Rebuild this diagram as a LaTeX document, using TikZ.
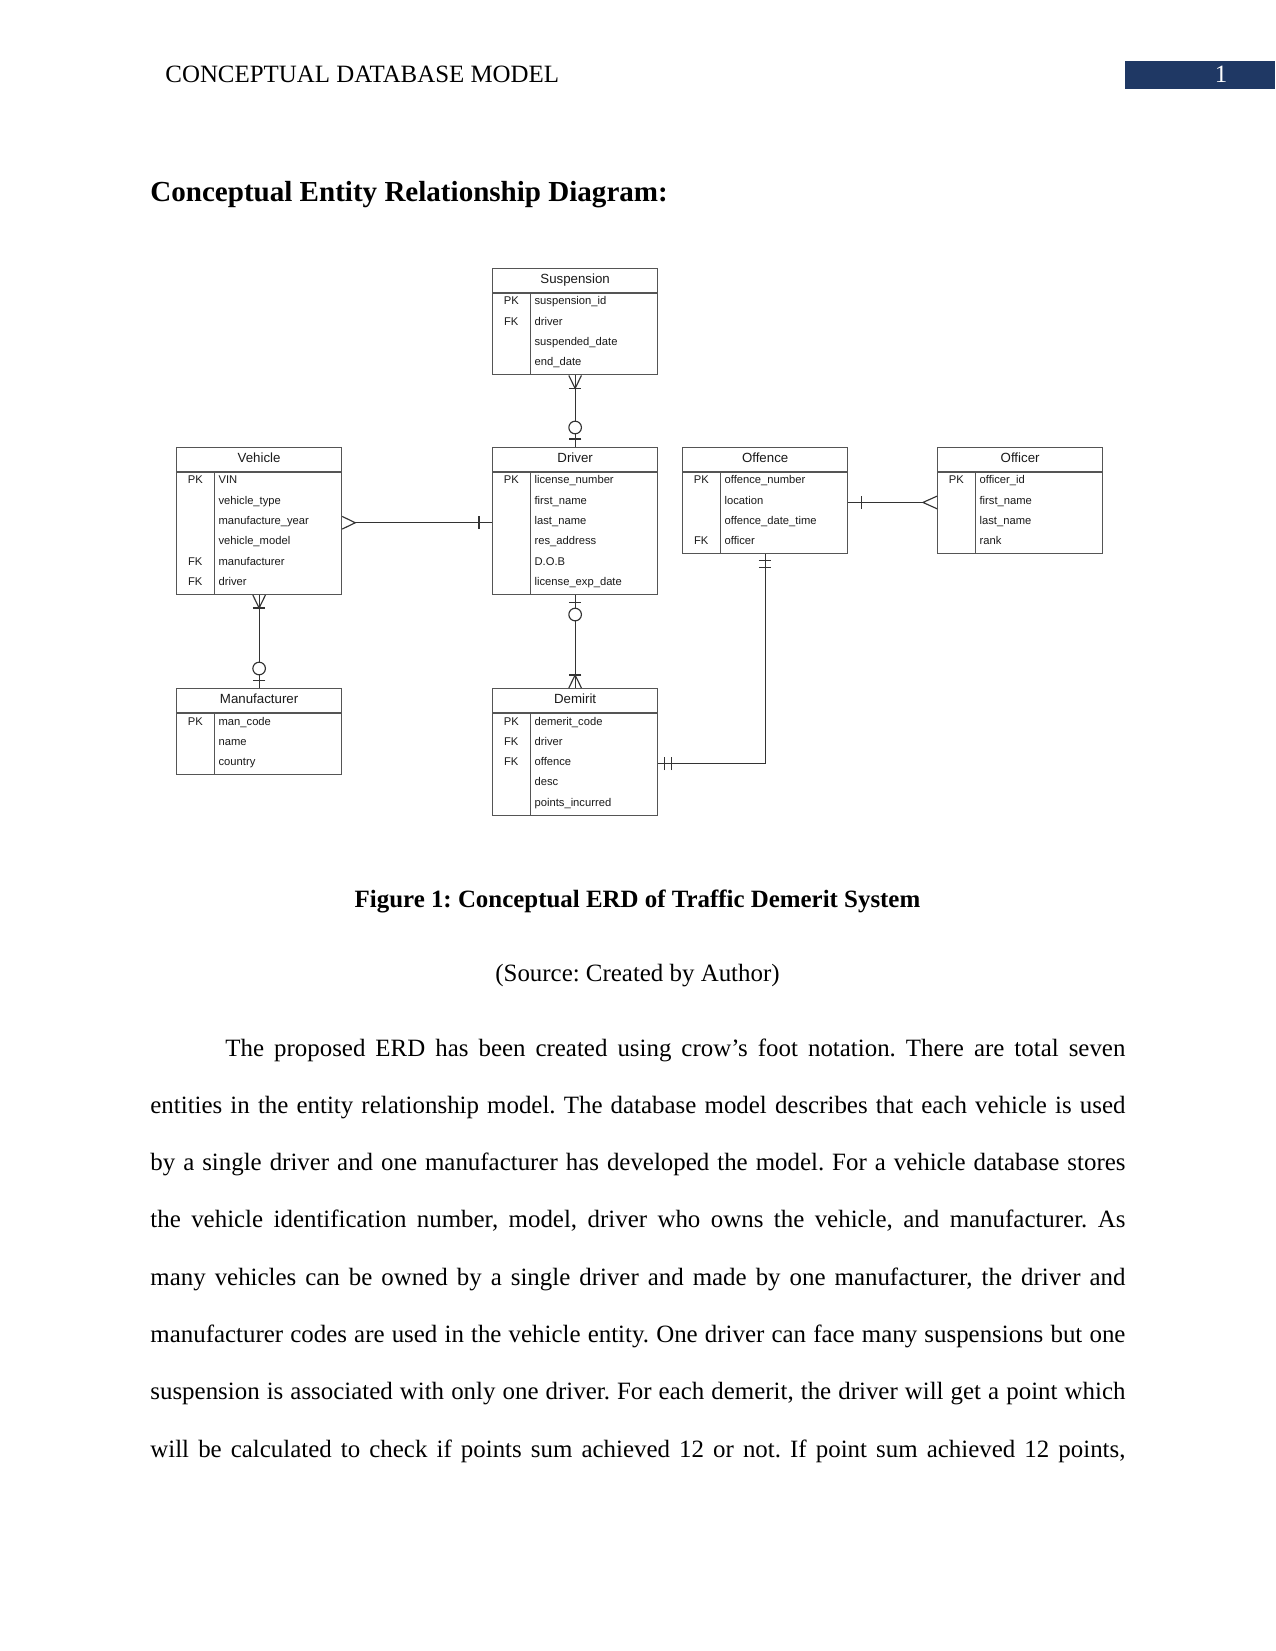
\documentclass[tikz,border=0pt]{standalone}
\usepackage{fontspec}
\setmainfont{Liberation Serif}
\newfontfamily\erdfont{Liberation Sans}
\usepackage{xcolor}
\usepackage{tikz}
\usetikzlibrary{calc}
\frenchspacing

\definecolor{erdline}{HTML}{555555}
\definecolor{erdconn}{HTML}{333333}
\definecolor{erdtext}{HTML}{1A1A1A}
\definecolor{hdrnavy}{HTML}{1F3864}

\begin{document}
\begin{tikzpicture}[x=0.4818pt, y=-0.4818pt,
  body/.style={anchor=base west, inner sep=0pt, font=\fontsize{12}{14}\selectfont},
  ent/.style={draw=erdline, line width=0.6pt, inner sep=0pt, anchor=north west,
    minimum width=79.5pt, minimum height={(25+#1*20.3)*0.4818pt}},
  eline/.style={draw=erdline, line width=0.6pt},
  etitle/.style={anchor=base, inner sep=0pt, text=erdtext, font=\erdfont\fontsize{6.4}{7.5}\selectfont},
  eattr/.style={anchor=base west, inner sep=0pt, text=erdtext, font=\erdfont\fontsize{5.4}{6.5}\selectfont},
  ekey/.style={anchor=base, inner sep=0pt, text=erdtext, font=\erdfont\fontsize{5.4}{6.5}\selectfont},
  conn/.style={draw=erdconn, line width=0.55pt},
  pics/crowmany/.style={code={\draw[conn] (-6.3,0) -- (0,13) -- (6.3,0);}},
  pics/crowbar/.style={code={\draw[conn] (-6.3,#1) -- (6.3,#1);}},
  pics/crowring/.style={code={\draw[conn, fill=white] (0,19.5) circle[radius=6.3];}}]
  \fill[white] (0,0) rectangle (1275,1651);

  % page header
  \node[body] (hdr) at (165,83) {CONCEPTUAL DATABASE MODEL};
  \fill[hdrnavy] (1125,61) rectangle (1275,89);
  \node[body, anchor=base, text=white] (pgno) at (1221,83) {1};
  \node[body, font=\bfseries\fontsize{14}{16}\selectfont] (ttl) at (150,202) {Conceptual Entity Relationship Diagram:};

  % Suspension
  \node[ent=4] (sus) at (492,268) {};
  \draw[eline] ($(sus.north west)+(0,25)$) -- ($(sus.north east)+(0,25)$)
               ($(sus.north west)+(38.5,25)$) -- ($(sus.south west)+(38.5,0)$);
  \node[etitle] (sus-t) at ($(sus.north)+(0,15.4)$) {Suspension};
  \foreach \pk/\fld [count=\row] in {PK/suspension\_id, FK/driver, /suspended\_date, /end\_date}
    \node[eattr] (sus-\row) at ($(sus.north west)+(42.2,{37+20.3*(\row-1)})$) {\fld}
      node[ekey] (sus-k\row) at ($(sus.north west)+(19.3,{37+20.3*(\row-1)})$) {\pk};

  % Vehicle
  \node[ent=6] (veh) at (176,447) {};
  \draw[eline] ($(veh.north west)+(0,25)$) -- ($(veh.north east)+(0,25)$)
               ($(veh.north west)+(38.5,25)$) -- ($(veh.south west)+(38.5,0)$);
  \node[etitle] (veh-t) at ($(veh.north)+(0,15.4)$) {Vehicle};
  \foreach \pk/\fld [count=\row] in {PK/VIN, /vehicle\_type, /manufacture\_year, /vehicle\_model, FK/manufacturer, FK/driver}
    \node[eattr] (veh-\row) at ($(veh.north west)+(42.2,{37+20.3*(\row-1)})$) {\fld}
      node[ekey] (veh-k\row) at ($(veh.north west)+(19.3,{37+20.3*(\row-1)})$) {\pk};

  % Driver
  \node[ent=6] (drv) at (492,447) {};
  \draw[eline] ($(drv.north west)+(0,25)$) -- ($(drv.north east)+(0,25)$)
               ($(drv.north west)+(38.5,25)$) -- ($(drv.south west)+(38.5,0)$);
  \node[etitle] (drv-t) at ($(drv.north)+(0,15.4)$) {Driver};
  \foreach \pk/\fld [count=\row] in {PK/license\_number, /first\_name, /last\_name, /res\_address, /D.O.B, /license\_exp\_date}
    \node[eattr] (drv-\row) at ($(drv.north west)+(42.2,{37+20.3*(\row-1)})$) {\fld}
      node[ekey] (drv-k\row) at ($(drv.north west)+(19.3,{37+20.3*(\row-1)})$) {\pk};

  % Offence
  \node[ent=4] (off) at (682,447) {};
  \draw[eline] ($(off.north west)+(0,25)$) -- ($(off.north east)+(0,25)$)
               ($(off.north west)+(38.5,25)$) -- ($(off.south west)+(38.5,0)$);
  \node[etitle] (off-t) at ($(off.north)+(0,15.4)$) {Offence};
  \foreach \pk/\fld [count=\row] in {PK/offence\_number, /location, /offence\_date\_time, FK/officer}
    \node[eattr] (off-\row) at ($(off.north west)+(42.2,{37+20.3*(\row-1)})$) {\fld}
      node[ekey] (off-k\row) at ($(off.north west)+(19.3,{37+20.3*(\row-1)})$) {\pk};

  % Officer
  \node[ent=4] (ofr) at (937,447) {};
  \draw[eline] ($(ofr.north west)+(0,25)$) -- ($(ofr.north east)+(0,25)$)
               ($(ofr.north west)+(38.5,25)$) -- ($(ofr.south west)+(38.5,0)$);
  \node[etitle] (ofr-t) at ($(ofr.north)+(0,15.4)$) {Officer};
  \foreach \pk/\fld [count=\row] in {PK/officer\_id, /first\_name, /last\_name, /rank}
    \node[eattr] (ofr-\row) at ($(ofr.north west)+(42.2,{37+20.3*(\row-1)})$) {\fld}
      node[ekey] (ofr-k\row) at ($(ofr.north west)+(19.3,{37+20.3*(\row-1)})$) {\pk};

  % Manufacturer
  \node[ent=3] (man) at (176,688) {};
  \draw[eline] ($(man.north west)+(0,25)$) -- ($(man.north east)+(0,25)$)
               ($(man.north west)+(38.5,25)$) -- ($(man.south west)+(38.5,0)$);
  \node[etitle] (man-t) at ($(man.north)+(0,15.4)$) {Manufacturer};
  \foreach \pk/\fld [count=\row] in {PK/man\_code, /name, /country}
    \node[eattr] (man-\row) at ($(man.north west)+(42.2,{37+20.3*(\row-1)})$) {\fld}
      node[ekey] (man-k\row) at ($(man.north west)+(19.3,{37+20.3*(\row-1)})$) {\pk};

  % Demirit
  \node[ent=5] (dem) at (492,688) {};
  \draw[eline] ($(dem.north west)+(0,25)$) -- ($(dem.north east)+(0,25)$)
               ($(dem.north west)+(38.5,25)$) -- ($(dem.south west)+(38.5,0)$);
  \node[etitle] (dem-t) at ($(dem.north)+(0,15.4)$) {Demirit};
  \foreach \pk/\fld [count=\row] in {PK/demerit\_code, FK/driver, FK/offence, /desc, /points\_incurred}
    \node[eattr] (dem-\row) at ($(dem.north west)+(42.2,{37+20.3*(\row-1)})$) {\fld}
      node[ekey] (dem-k\row) at ($(dem.north west)+(19.3,{37+20.3*(\row-1)})$) {\pk};

  % relationships
  \draw[conn] (sus.south) -- (drv.north);
  \pic at (sus.south) {crowmany};
  \pic at (sus.south) {crowbar=13};
  \pic[rotate=180] at (drv.north) {crowbar=8};
  \pic[rotate=180] at (drv.north) {crowring};

  \coordinate (vd-a) at ($(veh.north east)+(0,75.75)$);
  \coordinate (vd-b) at ($(drv.north west)+(0,75.75)$);
  \draw[conn] ($(vd-a)+(13,0)$) -- (vd-b);
  \pic[rotate=90] at (vd-a) {crowmany};
  \pic[rotate=-90] at (vd-b) {crowbar=13};

  \draw[conn] (veh.south) -- (man.north);
  \pic at (veh.south) {crowmany};
  \pic at (veh.south) {crowbar=13};
  \pic[rotate=180] at (man.north) {crowbar=7.5};
  \pic[rotate=180] at (man.north) {crowring};

  \draw[conn] (drv.south) -- (dem.north);
  \pic at (drv.south) {crowbar=7.5};
  \pic at (drv.south) {crowring};
  \pic[rotate=180] at (dem.north) {crowmany};
  \pic[rotate=180] at (dem.north) {crowbar=13};

  \coordinate (oo-a) at ($(off.north east)+(0,55.45)$);
  \coordinate (oo-b) at ($(ofr.north west)+(0,55.45)$);
  \draw[conn] (oo-a) -- ($(oo-b)+(-14,0)$);
  \pic[rotate=90] at (oo-a) {crowbar=13};
  \pic[rotate=-90,yscale=1.08] at (oo-b) {crowmany};

  \coordinate (od) at ($(dem.north east)+(0,75.75)$);
  \draw[conn] (off.south) |- (od);
  \pic at (off.south) {crowbar=6};
  \pic at (off.south) {crowbar=13};
  \pic[rotate=90] at (od) {crowbar=6};
  \pic[rotate=90] at (od) {crowbar=13};

  % caption and text
  \node[body, anchor=base, font=\bfseries\fontsize{12}{14}\selectfont] (cap) at (637.5,907) {Figure 1: Conceptual ERD of Traffic Demerit System};
  \node[body, anchor=base] (src) at (637.5,981) {(Source: Created by Author)};
  \node[body] (p1) at (225,1056) {\hbox to 6in{The proposed ERD has been created using crow’s foot notation. There are total seven}};
  \node[body] (p2) at (150,1113.3) {\hbox to 6.5in{entities in the entity relationship model. The database model describes that each vehicle is used}};
  \node[body] (p3) at (150,1170.6) {\hbox to 6.5in{by a single driver and one manufacturer has developed the model. For a vehicle database stores}};
  \node[body] (p4) at (150,1227.9) {\hbox to 6.5in{the vehicle identification number, model, driver who owns the vehicle, and manufacturer. As}};
  \node[body] (p5) at (150,1285.2) {\hbox to 6.5in{many vehicles can be owned by a single driver and made by one manufacturer, the driver and}};
  \node[body] (p6) at (150,1342.5) {\hbox to 6.5in{manufacturer codes are used in the vehicle entity. One driver can face many suspensions but one}};
  \node[body] (p7) at (150,1399.8) {\hbox to 6.5in{suspension is associated with only one driver. For each demerit, the driver will get a point which}};
  \node[body] (p8) at (150,1457.1) {\hbox to 6.5in{will be calculated to check if points sum achieved 12 or not. If point sum achieved 12 points,}};
\end{tikzpicture}
\end{document}
